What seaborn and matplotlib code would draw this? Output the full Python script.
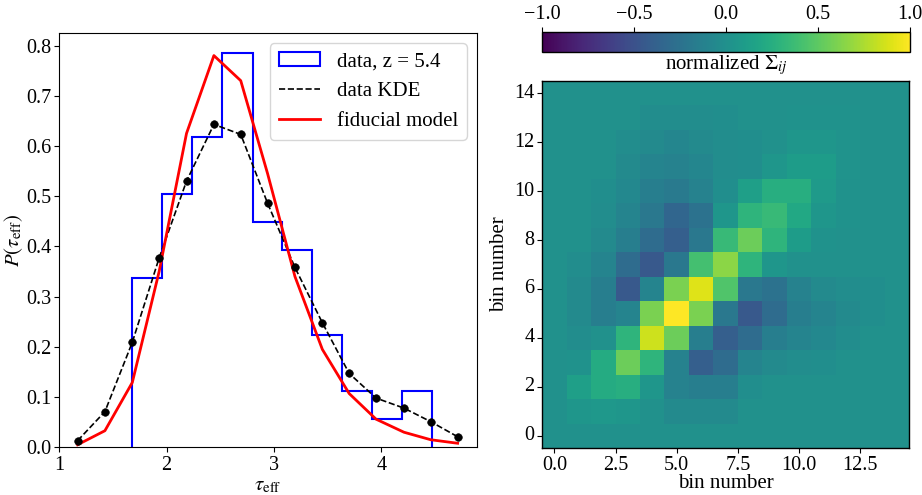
import numpy as np
import matplotlib
matplotlib.use("Agg")
import matplotlib.pyplot as plt
from matplotlib.patches import Rectangle
from matplotlib.lines import Line2D
import seaborn as sns

plt.rcParams['font.family'] = 'serif'
plt.rcParams['font.serif'] = ['Liberation Serif', 'DejaVu Serif']
plt.rcParams['mathtext.fontset'] = 'stix'
plt.rcParams['font.size'] = 15
plt.rcParams['xtick.labelsize'] = 14.5
plt.rcParams['ytick.labelsize'] = 14.5
plt.rcParams['xtick.major.pad'] = 2.5
plt.rcParams['ytick.major.pad'] = 2.0
plt.rcParams['axes.unicode_minus'] = True

# ---- left panel data ----
hist_edges = [1.68, 1.96, 2.24, 2.52, 2.80, 3.07, 3.35, 3.63, 3.91, 4.19, 4.47]
hist_heights = [0.337, 0.505, 0.618, 0.785, 0.449, 0.393, 0.224, 0.112, 0.056, 0.112]

kde_x = [1.17, 1.425, 1.68, 1.93, 2.185, 2.44, 2.69, 2.94, 3.195, 3.45, 3.70, 3.95, 4.21, 4.46, 4.71]
kde_y = [0.013, 0.071, 0.209, 0.377, 0.530, 0.643, 0.623, 0.486, 0.358, 0.248, 0.147, 0.098, 0.078, 0.051, 0.021]
model_y = [0.005, 0.033, 0.129, 0.350, 0.625, 0.780, 0.730, 0.545, 0.340, 0.195, 0.107, 0.056, 0.030, 0.015, 0.008]

# ---- right panel data: normalized covariance (row 0 = bottom) ----
cov_rows = [
    [0, 0, 0, 0, 0, 0, 0, 0, 0, 0, 0, 0, 0, 0, 0],
    [0, 0.05, 0.07, 0.05, 0.0, -0.05, -0.05, -0.05, 0, 0, 0, 0, 0, 0, 0],
    [0, 0.12, 0.22, 0.25, 0.05, -0.12, -0.15, -0.15, -0.02, 0, 0, 0, 0, 0, 0],
    [0, 0.02, 0.22, 0.55, 0.30, -0.12, -0.40, -0.30, -0.10, -0.05, -0.03, -0.02, 0, 0, 0],
    [0, -0.03, 0.0, 0.30, 0.85, 0.55, -0.15, -0.40, -0.30, -0.15, -0.10, -0.07, -0.03, 0, 0],
    [0, -0.05, -0.15, -0.10, 0.60, 1.00, 0.60, -0.20, -0.45, -0.30, -0.15, -0.10, -0.05, -0.02, 0],
    [0, -0.05, -0.15, -0.45, -0.10, 0.60, 0.90, 0.45, -0.20, -0.25, -0.12, -0.05, -0.03, -0.02, 0],
    [0, -0.03, -0.10, -0.30, -0.45, -0.20, 0.40, 0.65, 0.30, 0.05, 0.0, 0, 0, 0, 0],
    [0, 0, -0.05, -0.15, -0.30, -0.40, -0.20, 0.35, 0.55, 0.30, 0.10, 0.02, 0, 0, 0],
    [0, 0, -0.03, -0.10, -0.20, -0.35, -0.25, 0.05, 0.30, 0.35, 0.20, 0.05, 0.02, 0, 0],
    [0, 0, -0.02, -0.07, -0.15, -0.18, -0.12, -0.02, 0.12, 0.25, 0.25, 0.08, 0.02, 0, 0],
    [0, 0, 0, -0.05, -0.10, -0.12, -0.08, -0.03, -0.02, 0.05, 0.10, 0.10, 0.03, 0, 0],
    [0, 0, 0, -0.03, -0.05, -0.08, -0.05, -0.03, -0.02, 0, 0.05, 0.05, 0.03, 0, 0],
    [0, 0, 0, 0, -0.03, -0.03, -0.03, -0.02, 0, 0, 0.02, 0.02, 0.02, 0, 0],
    [0, 0, 0, 0, 0, 0, 0, 0, 0, 0, 0, 0, 0, 0, 0],
]

xtick_vals = [0.0, 2.5, 5.0, 7.5, 10.0, 12.5]
ytick_vals = [0, 2, 4, 6, 8, 10, 12, 14]
cbar_ticks = [-1.0, -0.5, 0.0, 0.5, 1.0]


def fmt(v, nd=1):
    return f'{v:.{nd}f}'.replace('-', '\u2212')


fig = plt.figure(figsize=(9.22, 4.95), dpi=100)
ax1 = fig.add_axes([0.0643, 0.0964, 0.453, 0.837])
ax2 = fig.add_axes([0.588, 0.095, 0.398, 0.7414])
cax = fig.add_axes([0.588, 0.895, 0.399, 0.0404])

# Left panel
ax1.stairs(hist_heights, hist_edges, color='blue', linewidth=1.5)
sns.lineplot(x=kde_x, y=kde_y, ax=ax1, color='black', linestyle='--', linewidth=1.2)
sns.scatterplot(x=kde_x, y=kde_y, ax=ax1, color='black', s=30, edgecolor='black', zorder=5)
sns.lineplot(x=kde_x, y=model_y, ax=ax1, color='red', linewidth=2)
ax1.set_xlim(1.0, 4.89)
ax1.set_ylim(0.0, 0.825)
ax1.set_xticks([1, 2, 3, 4])
ax1.set_yticks([0.0, 0.1, 0.2, 0.3, 0.4, 0.5, 0.6, 0.7, 0.8])
ax1.set_xlabel(r'$\tau_{\rm eff}$', labelpad=1)
ax1.set_ylabel(r'$P(\tau_{\rm eff})$', labelpad=1)
handles = [
    Rectangle((0, 0), 1, 1, facecolor='none', edgecolor='blue', linewidth=1.5),
    Line2D([], [], color='black', linestyle='--', linewidth=1.2),
    Line2D([], [], color='red', linewidth=2),
]
ax1.legend(handles, ['data, z = 5.4', 'data KDE', 'fiducial model'],
           loc='upper right', fontsize=15)

# Right panel
M = np.array(cov_rows)
sns.heatmap(M, ax=ax2, cmap='viridis', vmin=-1, vmax=1, cbar_ax=cax,
            cbar_kws={'orientation': 'horizontal'})
ax2.set_xlim(0, 15)
ax2.set_ylim(0, 15)
for sp in ax2.spines.values():
    sp.set_visible(True)
    sp.set_color('black')
    sp.set_linewidth(1.0)
ax2.set_xticks([v + 0.5 for v in xtick_vals])
ax2.set_xticklabels([fmt(v) for v in xtick_vals], rotation=0)
ax2.set_yticks([v + 0.5 for v in ytick_vals])
ax2.set_yticklabels([str(v) for v in ytick_vals], rotation=0)
ax2.tick_params(length=3.5, width=0.8)
ax2.set_xlabel('bin number', labelpad=-1)
ax2.set_ylabel('bin number')

cb = ax2.collections[0].colorbar
cb.outline.set_linewidth(1.0)
cb.outline.set_edgecolor('black')
cb.set_ticks(cbar_ticks)
cb.set_ticklabels([fmt(v) for v in cbar_ticks])
cax.xaxis.set_ticks_position('top')
cax.xaxis.set_label_position('bottom')
cax.tick_params(length=3.5, width=0.8)
cax.set_xlabel(r'normalized $\Sigma_{ij}$', labelpad=1)

fig.savefig('out.png', dpi=100)
